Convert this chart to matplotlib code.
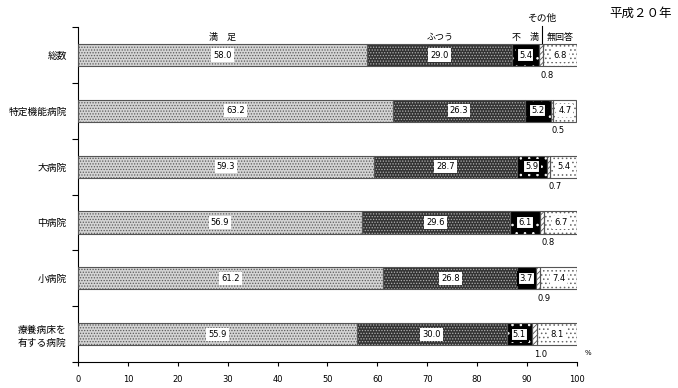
import numpy as np
import matplotlib
matplotlib.use('Agg')
import matplotlib.pyplot as plt

plt.rcParams['font.family'] = ['Noto Sans CJK JP', 'DejaVu Sans']
plt.rcParams['hatch.linewidth'] = 0.6

# データ
categories = ['総数', '特定機能病院', '大病院', '中病院', '小病院', '療養病床を\n有する病院']
series_names = ['満　足', 'ふつう', '不　満', 'その他', '無回答']
manzoku = [58.0, 63.2, 59.3, 56.9, 61.2, 55.9]
futsuu = [29.0, 26.3, 28.7, 29.6, 26.8, 30.0]
fuman = [5.4, 5.2, 5.9, 6.1, 3.7, 5.1]
sonota = [0.8, 0.5, 0.7, 0.8, 0.9, 1.0]
mukaitou = [6.8, 4.7, 5.4, 6.7, 7.4, 8.1]
xticks = [0, 10, 20, 30, 40, 50, 60, 70, 80, 90, 100]

series = [manzoku, futsuu, fuman, sonota, mukaitou]
# (塗り色, ハッチ色, ハッチ)
styles = [
    ('#d4d4d4', '#5a5a5a', '......'),
    ('#333333', '#b0b0b0', '......'),
    ('#000000', '#ffffff', '..'),
    ('#ffffff', '#555555', '//////'),
    ('#ffffff', '#666666', '....'),
]

fig = plt.figure(figsize=(6.78, 3.88), dpi=100)
ax = fig.add_axes([0.115, 0.067, 0.736, 0.863])

y = np.arange(len(categories))
h = 0.4
left = np.zeros(len(categories))
for vals, (fc, hc, ht) in zip(series, styles):
    vals = np.array(vals)
    ax.barh(y, vals, left=left, height=h, color=fc, edgecolor=hc,
            hatch=ht, linewidth=0, zorder=2)
    ax.barh(y, vals, left=left, height=h, facecolor='none',
            edgecolor='#555555', linewidth=0.8, zorder=3)
    left += vals

# 値ラベル
for i in range(len(categories)):
    l = 0.0
    for k, vals in enumerate(series):
        v = vals[i]
        c = l + v / 2
        if k == 3:
            ax.text(l + v / 2 + 1.3, i + 0.36, f'{v:.1f}', ha='center', va='center',
                    fontsize=6, family=['DejaVu Sans'], zorder=5)
        elif k == 2:
            ax.text(c, i, f'{v:.1f}', ha='center', va='center', fontsize=6,
                    family=['DejaVu Sans'], zorder=5,
                    bbox=dict(boxstyle='square,pad=0.25', fc='white', ec='black', lw=1.5))
        else:
            ax.text(c, i, f'{v:.1f}', ha='center', va='center', fontsize=6,
                    family=['DejaVu Sans'], zorder=5,
                    bbox=dict(boxstyle='square,pad=0.25', fc='white', ec='none'))
        l += v

# 凡例代わりの見出し
l = 0.0
for k, vals in enumerate(series):
    v = vals[0]
    c = l + v / 2
    if k == 3:
        ax.text(c + 0.2, -0.66, series_names[k], ha='center', va='center', fontsize=7,
                clip_on=False)
        ax.plot([c + 0.2, c + 0.2], [-0.52, -0.2], color='black', lw=0.8, clip_on=False)
    else:
        ax.text(c, -0.32, series_names[k], ha='center', va='center', fontsize=6.5,
                clip_on=False)
    l += v

fig.text(0.945, 0.965, '平成２０年', ha='center', va='center', fontsize=9)

ax.set_xlim(0, 100)
ax.set_ylim(len(categories) - 0.5, -0.5)
ax.set_xticks(xticks)
ax.set_xticklabels([str(t) for t in xticks], fontsize=6, family=['DejaVu Sans'])
ax.set_yticks(y)
ax.set_yticklabels(categories, fontsize=7, linespacing=1.3)
ax.set_yticks(np.arange(-0.5, len(categories) + 0.5, 1), minor=True)
ax.tick_params(axis='y', which='major', length=0, pad=8)
ax.tick_params(axis='y', which='minor', length=4, width=0.8)
ax.tick_params(axis='x', length=3, width=0.8, pad=6)
ax.spines['top'].set_visible(False)
ax.spines['right'].set_visible(False)
ax.text(101.5, len(categories) - 0.5 - 0.1, '%', fontsize=5, ha='left', va='bottom',
        family=['DejaVu Sans'], clip_on=False)

fig.savefig('out.png', dpi=100)
